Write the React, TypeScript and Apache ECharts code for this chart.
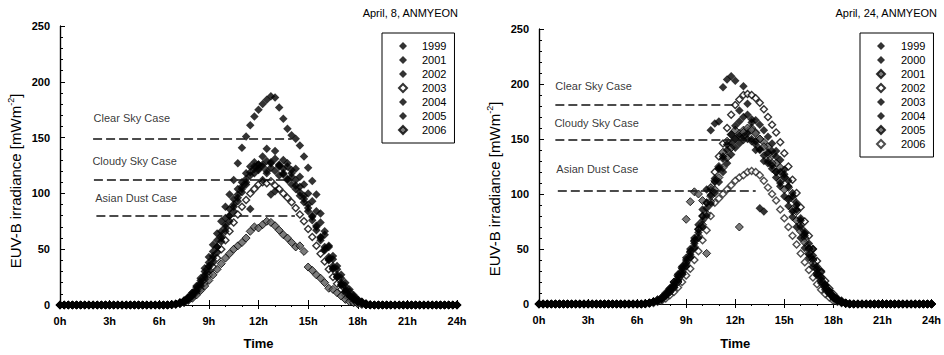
import React, { useEffect, useRef } from "react";
import * as echarts from "echarts";

const FONT = "'Liberation Sans', Arial, sans-serif";

// zeros before 6h (0..5.75h) and after 19h (19.25..24h), 15-min steps
const AM_ZERO = [0,0,0,0, 0,0,0,0, 0,0,0,0, 0,0,0,0, 0,0,0,0, 0,0,0,0];
const PM_ZERO = [0,0,0,0, 0,0,0,0, 0,0,0,0, 0,0,0,0, 0,0,0,0];

// ---- April 8 (6h..19h every 15 min) ----
const L1999 = [0,0,0.3,0.6, 1,2,4,7, 11,17,24,33, 43,54,64,75, 88,99,112,127, 141,151,161,169, 175,180,184,187, 186,177,167,158, 152,149,143,133, 123,111,99,82, 66,52,41,32, 24,17,12,8, 5,3,1.5,0.5, 0];
const L2001 = [0,0,0,0.5, 1,2,3,5, 8,12,17,23, 30,38,47,57, 66,75,84,93, 101,108,116,122, 126,124,129,127, 131,126,122,124, 118,112,106,98, 90,80,71,61, 52,43,35,27, 20,14,9,6, 3,2,1,0.3, 0];
const L2002 = [0,0,0,0.4, 1,2,3,5, 9,13,19,26, 34,42,52,60, 70,80,88,96, 104,110,86,118, 122,112,120,99, 102,116,118,113, 108,104,98,92, 84,76,67,58, 49,40,32,25, 18,12,8,5, 3,1.5,0.5,0, 0];
const L2003 = [0,0,0,0.3, 1,2,3,5, 7,11,15,20, 27,34,42,50, 58,66,74,81, 88,94,100,104, 108,110,109,111, 107,104,100,96, 92,87,81,75, 68,61,53,46, 39,32,25,19, 14,9,6,4, 2,1,0.5,0, 0];
const L2004 = [0,0,0,0.5, 1,2,4,7, 11,16,22,30, 38,48,58,66, 78,86,95,104, 110,118,124,128, 126,133,140,128, 138,124,130,127, 121,122,115,108, 100,93,84,74, 63,53,44,35, 27,20,14,9, 5,3,1,0.5, 0];
const L2005 = [0,0,0,0.4, 1,2,3,6, 9,14,20,27, 35,44,52,62, 72,80,90,99, 106,113,119,124, 121,126,118,123, 120,125,117,112, 115,107,101,95, 87,79,70,60, 50,41,33,25, 18,12,8,5, 3,1.5,0.5,0, 0];
const L2006 = [0,0,0,0.2, 0.5,1,2,4, 6,9,13,17, 22,27,32,37, 42,46,50,53, 56,60,66,70, 69,72,75,74, 71,67,63,60, 56,52,53,48, 34,31,27,24, 20,15,14,11, 8,5,3,2, 1,0.5,0,0, 0];

// ---- April 24 (6h..19h every 15 min) ----
const R1999 = [0,0,0.3,0.8, 2,3,5,9, 14,20,27,34, 42,50,60,72, 86,104,158,164, 166,197,204,207, 203,176,198,182, 165,140,87,84, 128,139,134,120, 116,107,98,86, 76,62,51,41, 31,22,15,10, 6,3,1.5,0.5, 0];
const R2000 = [0,0,0.3,1, 2,3,5,8, 12,16,22,29, 37,45,55,65, 76,87,99,111, 123,134,145,154, 162,166,170,172, 168,167,163,158, 152,146,139,131, 122,112,101,90, 78,66,55,44, 34,25,18,12, 7,4,2,1, 0];
const R2001 = [0,0,0.3,1, 2,3,5,8, 11,15,20,27, 35,43,52,62, 72,82,93,104, 115,124,133,142, 150,155,158,157, 160,156,150,147, 143,135,128,124, 115,106,96,84, 72,60,50,40, 32,24,17,11, 7,4,2,1, 0];
const R2002 = [0,0,0.5,1, 2,3,5,8, 12,17,23,30, 38,47,57,68, 80,92,106,120, 134,146,160,172, 181,186,190,191, 190,187,183,177, 170,163,156,147, 137,125,113,101, 88,75,62,50, 39,29,21,14, 9,5,3,1, 0.5];
const R2003 = [0,0,0.3,1, 2,3,5,9, 13,18,25,32, 40,48,58,68, 80,92,104,114, 124,132,140,146, 150,153,152,155, 150,148,140,130, 138,126,120,110, 118,96,84,92, 70,64,45,50, 28,30,17,12, 7,4,2,1, 0];
const R2004 = [0,0,0.2,0.8, 1.5,3,4,7, 11,15,21,27, 34,42,51,60, 70,80,91,101, 111,120,128,136, 142,146,149,150, 148,145,141,135, 130,123,115,107, 98,89,79,70, 60,51,42,34, 26,19,13,9, 5,3,1.5,0.5, 0];
const R2005 = [0,0,0.3,1, 2,4,6,10, 14,20,26,33, 77,93,102,100, 94,46,98,112, 125,138,148,154, 158,70,156,160, 158,155,150,143, 136,128,120,112, 104,95,86,76, 66,56,46,37, 28,21,15,10, 6,3,1.5,0.5, 0];
const R2006 = [0,0,0,0.5, 1,2,3,5, 8,11,15,20, 26,32,40,48, 58,67,80,92, 96,100,104,108, 112,115,117,120, 121,120,117,112, 106,100,94,86, 78,70,62,54, 46,38,31,24, 18,13,9,6, 3,2,1,0.5, 0];

// reference lines: [value, fromHour, toHour]
const LEFT_REFS = [[149, 2.0, 14.0], [112, 2.05, 14.1], [80, 2.2, 14.2]];
const RIGHT_REFS = [[181, 1.0, 11.9], [149, 1.0, 13.1], [103, 1.15, 13.25]];
// annotations: [hour, value, text]
const LEFT_NOTES = [[2.0, 168, "Clear Sky Case"], [1.93, 129, "Cloudy Sky Case"], [2.1, 96, "Asian Dust Case"]];
const RIGHT_NOTES = [[0.97, 198, "Clear Sky Case"], [0.91, 165, "Cloudy Sky Case"], [1.03, 123, "Asian Dust Case"]];

const STYLES: Record<string, any> = {
  black: { color: "#000" },
  gray: { color: "#5a5a5a", borderColor: "#000", borderWidth: 1 },
  hollow: { color: "#fff", borderColor: "#000", borderWidth: 1.4 },
  hollowGray: { color: "#fff", borderColor: "#222", borderWidth: 1.4 },
};
const SIZES: Record<string, number> = { black: 8.5, gray: 8, hollow: 7, hollowGray: 7 };
const ZS: Record<string, number> = { black: 4, gray: 3, hollow: 2, hollowGray: 2 };

const LEFT_SERIES = [
  ["1999", L1999, "black"], ["2001", L2001, "black"], ["2002", L2002, "black"],
  ["2003", L2003, "hollow"], ["2004", L2004, "black"], ["2005", L2005, "black"],
  ["2006", L2006, "gray"],
];
const RIGHT_SERIES = [
  ["1999", R1999, "black"], ["2000", R2000, "black"], ["2001", R2001, "gray"],
  ["2002", R2002, "hollow"], ["2003", R2003, "black"], ["2004", R2004, "black"],
  ["2005", R2005, "gray"], ["2006", R2006, "hollowGray"],
];

function toPoints(day: number[]) {
  return [...AM_ZERO, ...day, ...PM_ZERO].map((v, i) => [i * 0.25, v]);
}

type PanelCfg = {
  left: number;
  grid: { left: number; top: number; width: number; height: number };
  title: string;
  titleX: number;
  ylabel: { x: number; y: number };
  legend: { left: number; top: number; textPad: number };
  refs: number[][];
  notes: any[][];
  series: any[][];
  nameGap: number;
};

function buildOption(c: PanelCfg) {
  const axisLine = { show: true, lineStyle: { color: "#000", width: 1.2 } };
  const lbl = { fontFamily: FONT, fontSize: 11, fontWeight: "bold" as const, color: "#000" };
  const series: any[] = c.series.map(([name, day, st]) => ({
    name,
    type: "scatter",
    symbol: "diamond",
    symbolSize: SIZES[st as string],
    z: ZS[st as string],
    data: toPoints(day as number[]),
    itemStyle: STYLES[st as string],
    xAxisIndex: 0,
    yAxisIndex: 0,
  }));
  series.push({
    name: "refs",
    type: "line",
    data: [],
    xAxisIndex: 0,
    yAxisIndex: 0,
    z: 1,
    markLine: {
      silent: true,
      symbol: ["none", "none"],
      label: { show: false },
      lineStyle: { type: [9, 4], color: "#111", width: 1.5 },
      data: c.refs.map(([v, a, b]) => [{ coord: [a, v] }, { coord: [b, v] }]),
    },
  });
  series.push({
    name: "notes",
    type: "scatter",
    symbolSize: 1,
    z: 5,
    itemStyle: { color: "rgba(0,0,0,0)" },
    data: c.notes.map(([h, v, t]) => [h, v, t]),
    label: {
      show: true,
      position: "right",
      distance: 0,
      formatter: (p: any) => p.value[2],
      fontFamily: FONT,
      fontSize: 11,
      color: "#000",
      textBorderWidth: 0,
    },
    emphasis: { disabled: true },
    xAxisIndex: 0,
    yAxisIndex: 0,
  });
  return {
    animation: false,
    backgroundColor: "#fff",
    grid: { ...c.grid, containLabel: false },
    xAxis: [
      {
        type: "value", min: 0, max: 24, interval: 3, position: "bottom",
        axisLine, splitLine: { show: false },
        axisTick: { inside: true, length: 5, lineStyle: { color: "#000" } },
        axisLabel: { ...lbl, margin: 10, formatter: (v: number) => v + "h" },
        name: "Time", nameLocation: "middle", nameGap: c.nameGap,
        nameTextStyle: { fontFamily: FONT, fontSize: 13, fontWeight: "bold", color: "#000" },
      },
      {
        type: "value", min: 0, max: 24, interval: 3, position: "top",
        axisLine, splitLine: { show: false },
        axisTick: { inside: true, length: 4, lineStyle: { color: "#000" } },
        minorTick: { show: true, splitNumber: 3, length: 2, lineStyle: { color: "#000" } },
        axisLabel: { show: false },
      },
    ],
    yAxis: [
      {
        type: "value", min: 0, max: 250, interval: 50, position: "left",
        axisLine, splitLine: { show: false },
        axisTick: { inside: true, length: 4, lineStyle: { color: "#000" } },
        minorTick: { show: true, splitNumber: 5, length: 2, lineStyle: { color: "#000" } },
        axisLabel: { ...lbl, margin: 10 },
      },
      {
        type: "value", min: 0, max: 250, interval: 50, position: "right",
        axisLine, splitLine: { show: false },
        axisTick: { show: true, inside: false, length: 5, lineStyle: { color: "#000" } },
        minorTick: { show: true, splitNumber: 5, length: 3, lineStyle: { color: "#000" } },
        axisLabel: { show: false },
      },
    ],
    legend: {
      orient: "vertical",
      left: c.legend.left,
      top: c.legend.top,
      data: c.series.map((s) => s[0] as string),
      icon: "diamond",
      itemWidth: 8,
      itemHeight: 8,
      itemGap: 0,
      borderColor: "#000",
      borderWidth: 1,
      padding: [6, 8, 6, 16],
      textStyle: { fontFamily: FONT, fontSize: 11, lineHeight: 14, color: "#000", padding: [0, 0, 0, c.legend.textPad] },
    },
    graphic: [
      {
        type: "text", x: c.titleX, y: 13,
        style: { text: c.title, fontFamily: FONT, fontSize: 11, fill: "#000", align: "right", verticalAlign: "middle" },
      },
      {
        type: "text", x: c.ylabel.x, y: c.ylabel.y, rotation: Math.PI / 2,
        style: {
          text: "{a|EUV-B irradiance [mWm}{s|-2}{a|]}",
          align: "center", verticalAlign: "middle",
          rich: {
            a: { fontFamily: FONT, fontSize: 15, lineHeight: 18, fill: "#000" },
            s: { fontFamily: FONT, fontSize: 9, lineHeight: 18, fill: "#000", verticalAlign: "top" },
          },
        },
      },
    ],
    series,
  };
}

const LEFT_CFG: PanelCfg = {
  left: 0,
  grid: { left: 60, top: 26, width: 397, height: 279 },
  title: "April, 8, ANMYEON",
  titleX: 458,
  ylabel: { x: 15, y: 181 },
  legend: { left: 382, top: 33, textPad: 10 },
  refs: LEFT_REFS,
  notes: LEFT_NOTES,
  series: LEFT_SERIES,
  nameGap: 32,
};
const RIGHT_CFG: PanelCfg = {
  left: 472,
  grid: { left: 67, top: 29, width: 395, height: 280 },
  title: "April, 24, ANMYEON",
  titleX: 465,
  ylabel: { x: 22, y: 189 },
  legend: { left: 388, top: 33, textPad: 11 },
  refs: RIGHT_REFS,
  notes: RIGHT_NOTES,
  series: RIGHT_SERIES,
  nameGap: 33,
};

function Panel({ cfg }: { cfg: PanelCfg }) {
  const ref = useRef<HTMLDivElement>(null);
  useEffect(() => {
    if (!ref.current) return;
    const chart = echarts.init(ref.current, undefined, { renderer: "svg" });
    chart.setOption(buildOption(cfg) as any);
    return () => chart.dispose();
  }, [cfg]);
  return (
    <div
      ref={ref}
      style={{ position: "absolute", left: cfg.left, top: 0, width: 472, height: 355 }}
    />
  );
}

export default function App() {
  return (
    <div style={{ position: "fixed", left: 0, top: 0, width: 944, height: 355, background: "#fff", overflow: "hidden" }}>
      <Panel cfg={LEFT_CFG} />
      <Panel cfg={RIGHT_CFG} />
    </div>
  );
}
